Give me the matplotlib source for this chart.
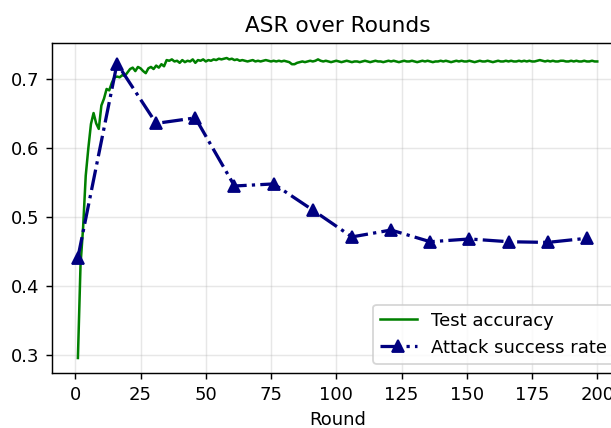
import matplotlib
matplotlib.use("Agg")
import matplotlib.pyplot as plt

# test accuracy, one value per round (1..200)
acc_rounds = list(range(1, 201))
test_acc = [
    0.295, 0.430, 0.485, 0.560, 0.600, 0.635, 0.651, 0.636, 0.628, 0.662,
    0.672, 0.686, 0.684, 0.695, 0.703, 0.704, 0.703, 0.706, 0.705, 0.710,
    0.715, 0.717, 0.712, 0.718, 0.716, 0.712, 0.709, 0.716, 0.718, 0.715,
    0.720, 0.717, 0.722, 0.719, 0.728, 0.727, 0.729, 0.726, 0.727, 0.724,
    0.728, 0.725, 0.727, 0.726, 0.729, 0.724, 0.728, 0.727, 0.729, 0.726,
    0.728, 0.727, 0.729, 0.728, 0.730, 0.729, 0.730, 0.731, 0.729, 0.730,
    0.728, 0.729, 0.727, 0.728, 0.727, 0.726, 0.727, 0.728, 0.726, 0.727,
    0.726, 0.727, 0.728, 0.727, 0.726, 0.727, 0.726, 0.727, 0.726, 0.727,
    0.726, 0.725, 0.722, 0.722, 0.724, 0.725, 0.726, 0.725, 0.726, 0.727,
    0.726, 0.727, 0.729, 0.727, 0.726, 0.727, 0.726, 0.725, 0.726, 0.727,
    0.726, 0.725, 0.726, 0.727, 0.726, 0.725, 0.726, 0.726, 0.725, 0.726,
    0.727, 0.726, 0.725, 0.726, 0.727, 0.726, 0.726, 0.725, 0.726, 0.727,
    0.726, 0.727, 0.726, 0.725, 0.726, 0.727, 0.726, 0.726, 0.727, 0.726,
    0.725, 0.726, 0.727, 0.726, 0.727, 0.726, 0.725, 0.726, 0.726, 0.727,
    0.726, 0.727, 0.726, 0.725, 0.726, 0.727, 0.726, 0.727, 0.726, 0.726,
    0.727, 0.726, 0.725, 0.726, 0.727, 0.726, 0.726, 0.727, 0.726, 0.725,
    0.726, 0.727, 0.726, 0.726, 0.727, 0.726, 0.727, 0.726, 0.726, 0.727,
    0.726, 0.727, 0.726, 0.727, 0.726, 0.726, 0.727, 0.728, 0.727, 0.726,
    0.727, 0.726, 0.727, 0.726, 0.726, 0.727, 0.727, 0.726, 0.726, 0.727,
    0.726, 0.727, 0.726, 0.726, 0.727, 0.726, 0.726, 0.727, 0.726, 0.726,
]

# attack success rate, measured every 15 rounds
asr_rounds = [1, 16, 31, 46, 61, 76, 91, 106, 121, 136, 151, 166, 181, 196]
asr = [0.441, 0.723, 0.636, 0.644, 0.545, 0.548, 0.510, 0.471, 0.481,
       0.464, 0.468, 0.464, 0.463, 0.469]

xticks = [0, 25, 50, 75, 100, 125, 150, 175, 200]
yticks = [0.3, 0.4, 0.5, 0.6, 0.7]

DPI = 130
fig = plt.figure(figsize=(611 / DPI, 428 / DPI), dpi=DPI)
# axes runs past the right edge, like the cropped original
ax = fig.add_axes([0.085, 0.1285, 0.935, 0.771])

ax.plot(acc_rounds, test_acc, color="green", linewidth=1.4, label="Test accuracy")
ax.plot(asr_rounds, asr, color="navy", linestyle="-.", linewidth=1.8,
        marker="^", markersize=7, label="Attack success rate")

ax.set_xticks(xticks)
ax.set_yticks(yticks)
ax.set_xlabel("Round")
ax.set_title("ASR over Rounds")
ax.grid(True, alpha=0.3)
ax.legend(loc="lower right")

fig.savefig("out.png", dpi=DPI)
